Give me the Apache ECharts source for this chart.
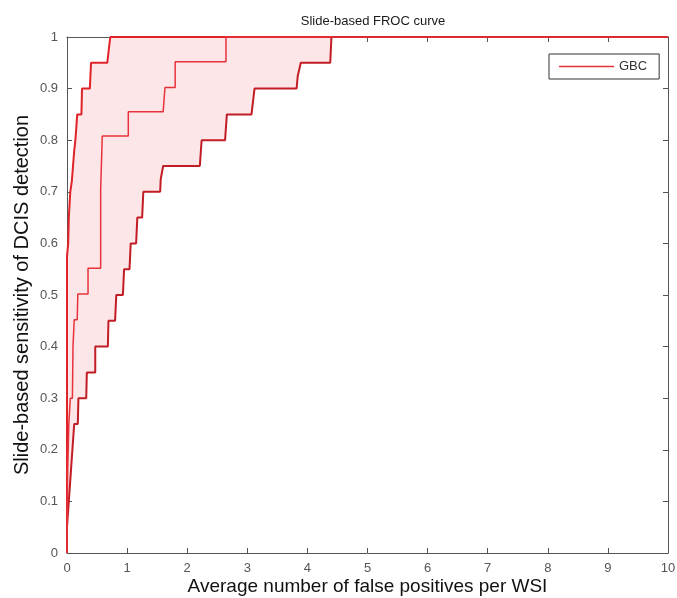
<!DOCTYPE html>
<html>
<head>
<meta charset="utf-8">
<script src="https://cdn.jsdelivr.net/npm/echarts@6/dist/echarts.min.js"></script>
<style>html,body{margin:0;padding:0;background:#fff}#c{width:677px;height:598px}</style>
</head>
<body>
<div id="c"></div>
<script>
// ---- data ----
const xTicks = [0,1,2,3,4,5,6,7,8,9,10];
const yTicks = [0,0.1,0.2,0.3,0.4,0.5,0.6,0.7,0.8,0.9,1];
const seriesName = 'GBC';
const upperX = [0,0,0.02,0.03,0.055,0.08,0.10,0.12,0.14,0.16,0.17,0.24,0.25,0.38,0.40,0.67,0.72,10];
const upperY = [0,0.575,0.60,0.65,0.70,0.72,0.75,0.78,0.80,0.80,0.85,0.85,0.90,0.90,0.95,0.95,1.0,1.0];
const midX = [0,0.01,0.03,0.055,0.09,0.095,0.10,0.12,0.12,0.17,0.18,0.35,0.35,0.56,0.56,0.587,0.587,1.02,1.02,1.60,1.63,1.80,1.80,2.645,2.645,10];
const midY = [0,0.15,0.25,0.30,0.30,0.35,0.40,0.40,0.452,0.452,0.502,0.502,0.552,0.552,0.705,0.705,0.808,0.808,0.855,0.855,0.902,0.902,0.952,0.952,1.0,1.0];
const lowerX = [0,0,0.03,0.06,0.09,0.12,0.18,0.19,0.32,0.33,0.47,0.47,0.68,0.69,0.80,0.82,0.93,0.95,1.04,1.06,1.15,1.17,1.25,1.27,1.55,1.56,1.58,1.60,2.21,2.24,2.63,2.66,3.07,3.12,3.82,3.84,3.86,3.89,4.38,4.40,10];
const lowerY = [0,0.05,0.10,0.15,0.20,0.25,0.25,0.30,0.30,0.35,0.35,0.40,0.40,0.45,0.45,0.50,0.50,0.55,0.55,0.60,0.60,0.65,0.65,0.70,0.70,0.725,0.725,0.75,0.75,0.80,0.80,0.85,0.85,0.90,0.90,0.925,0.925,0.95,0.95,1.0,1.0];

const zip = (xs, ys) => xs.map((x, i) => [x, ys[i]]);
const upper = zip(upperX, upperY);
const mid = zip(midX, midY);
const lower = zip(lowerX, lowerY);

const axisColor = '#555';
const labelColor = '#555';
const font = 'Liberation Sans, Arial, Helvetica, sans-serif';

const chart = echarts.init(document.getElementById('c'), null, {renderer: 'canvas'});
chart.setOption({
  animation: false,
  backgroundColor: '#fff',
  title: {
    text: 'Slide-based FROC curve',
    left: 368, top: 10, textAlign: 'center',
    textStyle: {fontFamily: font, fontSize: 13, fontWeight: 'normal', color: '#1a1a1a'}
  },
  grid: {left: 67, right: 9, top: 37, bottom: 45, containLabel: false, outerBoundsMode: 'none'},
  legend: {
    data: [{name: seriesName, icon: 'rect'}],
    left: 549, top: 54,
    itemWidth: 55, itemHeight: 1.5,
    padding: [6, 12, 6, 10],
    borderColor: '#333', borderWidth: 1,
    textStyle: {fontFamily: font, fontSize: 13, color: '#333'}
  },
  xAxis: [{
    type: 'value', min: 0, max: 10, interval: 1,
    name: 'Average number of false positives per WSI',
    nameLocation: 'middle', nameGap: 24, nameMoveOverlap: false,
    nameTextStyle: {fontFamily: font, fontSize: 19, color: '#111'},
    axisLine: {show: true, onZero: false, lineStyle: {color: axisColor, width: 1}},
    axisTick: {show: true, inside: true, length: 5, lineStyle: {color: axisColor}},
    axisLabel: {fontFamily: font, fontSize: 13, color: labelColor, margin: 9},
    splitLine: {show: false}
  }, {
    type: 'value', position: 'top', min: 0, max: 10, interval: 1,
    axisLine: {show: true, onZero: false, lineStyle: {color: axisColor, width: 1}},
    axisTick: {show: true, inside: true, length: 5, lineStyle: {color: axisColor}},
    axisLabel: {show: false}, splitLine: {show: false}
  }],
  yAxis: [{
    type: 'value', min: 0, max: 1, interval: 0.1,
    name: 'Slide-based sensitivity of DCIS detection',
    nameLocation: 'middle', nameGap: 35, nameMoveOverlap: false,
    nameTextStyle: {fontFamily: font, fontSize: 20, color: '#111'},
    axisLine: {show: true, onZero: false, lineStyle: {color: axisColor, width: 1}},
    axisTick: {show: true, inside: true, length: 5, lineStyle: {color: axisColor}},
    axisLabel: {fontFamily: font, fontSize: 13, color: labelColor, margin: 9,
      formatter: v => String(Math.round(v * 10) / 10)},
    splitLine: {show: false}
  }, {
    type: 'value', position: 'right', min: 0, max: 1, interval: 0.1,
    axisLine: {show: true, onZero: false, lineStyle: {color: axisColor, width: 1}},
    axisTick: {show: true, inside: true, length: 5, lineStyle: {color: axisColor}},
    axisLabel: {show: false}, splitLine: {show: false}
  }],
  series: [
    {
      type: 'custom', name: 'band', silent: true, z: 1,
      data: [0],
      renderItem: function (params, api) {
        const pts = upper.map(p => api.coord(p)).concat(lower.slice().reverse().map(p => api.coord(p)));
        return {
          type: 'polygon',
          shape: {points: pts},
          style: {fill: '#fce6e8', stroke: null}
        };
      }
    },
    {
      type: 'line', name: 'upper', data: upper, symbol: 'none', z: 3,
      lineStyle: {color: '#df2329', width: 2}, itemStyle: {color: '#df2329'}
    },
    {
      type: 'line', name: 'lower', data: lower, symbol: 'none', z: 3,
      lineStyle: {color: '#c21d25', width: 2}, itemStyle: {color: '#c21d25'}
    },
    {
      type: 'line', name: seriesName, data: mid, symbol: 'none', z: 4,
      lineStyle: {color: '#e8323a', width: 1.5}, itemStyle: {color: '#e8323a'}
    }
  ]
});
</script>
</body>
</html>
